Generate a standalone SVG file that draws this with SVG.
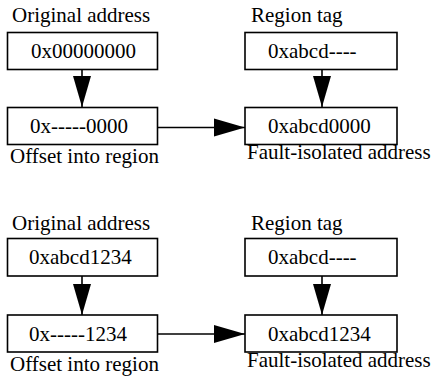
<svg xmlns="http://www.w3.org/2000/svg" width="435" height="381" viewBox="0 0 435 381">
  <style>
    .box { fill: #fff; stroke: #000; stroke-width: 1.6; }
    .lbl { font-size: 21px; fill: #000; }
    .edge { stroke: #000; stroke-width: 1.6; fill: none; marker-end: url(#head); }
  </style>
  <defs>
    <marker id="head" markerUnits="userSpaceOnUse" markerWidth="31" markerHeight="18" refX="31" refY="9" orient="auto" overflow="visible">
      <path d="M0,0 L31,9 L0,18 z" fill="#000"/>
    </marker>
  </defs>
  <rect width="435" height="381" fill="#fff"/>

  <!-- connectors -->
  <g id="connectors">
    <line class="edge" x1="82" y1="69" x2="82" y2="107"/>
    <line class="edge" x1="322" y1="69" x2="322" y2="107"/>
    <line class="edge" x1="157" y1="127.5" x2="245" y2="127.5"/>
    <line class="edge" x1="82" y1="276" x2="82" y2="315"/>
    <line class="edge" x1="322" y1="276" x2="322" y2="315"/>
    <line class="edge" x1="157" y1="334" x2="245" y2="334"/>
  </g>

  <g font-family="'Liberation Serif', 'Times New Roman', Tinos, 'DejaVu Serif', serif">
  <!-- first example -->
  <g id="orig1">
    <text class="lbl" x="12" y="22">Original address</text>
    <rect class="box" x="7.5" y="32.5" width="150" height="37"/>
    <text class="lbl" x="31" y="58">0x00000000</text>
  </g>
  <g id="offset1">
    <rect class="box" x="7.5" y="107.5" width="150" height="37"/>
    <text class="lbl" x="30" y="133">0x-----0000</text>
    <text class="lbl" x="10" y="163">Offset into region</text>
  </g>
  <g id="tag1">
    <text class="lbl" x="251" y="22">Region tag</text>
    <rect class="box" x="245" y="32.5" width="152" height="37"/>
    <text class="lbl" x="268" y="58">0xabcd----</text>
  </g>
  <g id="fault1">
    <rect class="box" x="245" y="107.5" width="152" height="37"/>
    <text class="lbl" x="268" y="133">0xabcd0000</text>
    <text class="lbl" x="247" y="159">Fault-isolated address</text>
  </g>

  <!-- second example -->
  <g id="orig2">
    <text class="lbl" x="12" y="230">Original address</text>
    <rect class="box" x="7.5" y="238.5" width="150" height="37.5"/>
    <text class="lbl" x="29" y="264">0xabcd1234</text>
  </g>
  <g id="offset2">
    <rect class="box" x="7.5" y="315" width="150" height="37"/>
    <text class="lbl" x="29" y="341">0x-----1234</text>
    <text class="lbl" x="10" y="371">Offset into region</text>
  </g>
  <g id="tag2">
    <text class="lbl" x="251" y="230">Region tag</text>
    <rect class="box" x="245" y="238.5" width="152" height="37.5"/>
    <text class="lbl" x="268" y="264">0xabcd----</text>
  </g>
  <g id="fault2">
    <rect class="box" x="245" y="315" width="152" height="37"/>
    <text class="lbl" x="268" y="341">0xabcd1234</text>
    <text class="lbl" x="247" y="367">Fault-isolated address</text>
  </g>
  </g>
</svg>
